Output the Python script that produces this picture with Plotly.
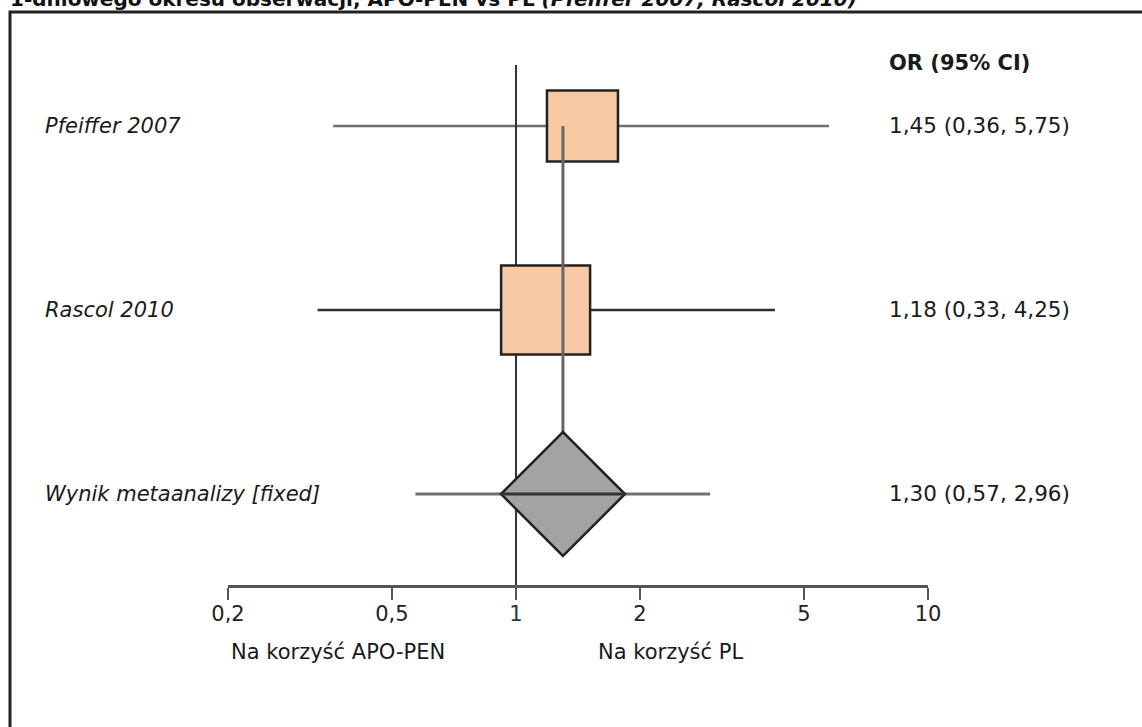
import math
import plotly.graph_objects as go

# ---------------- data ----------------
study_names = ["Pfeiffer 2007", "Rascol 2010"]
study_or = [1.45, 1.18]
study_ci_low = [0.36, 0.33]
study_ci_high = [5.75, 4.25]

meta_name = "Wynik metaanalizy [fixed]"
meta_or = 1.30
meta_ci_low = 0.57
meta_ci_high = 2.96

tick_values = [0.2, 0.5, 1, 2, 5, 10]
tick_labels = ["0,2", "0,5", "1", "2", "5", "10"]

header_text = "OR (95% CI)"
favours_left = "Na korzyść APO-PEN"
favours_right = "Na korzyść PL"
title_main = "1-dniowego okresu obserwacji, APO-PEN vs PL "
title_refs = "(Pfeiffer 2007, Rascol 2010)"

# ---------------- style / layout constants ----------------
W, H = 1142, 727
FONT = "DejaVu Sans"
FS = 21
study_box_px = [71, 89]
diamond_half_px = 62
box_fill = "#F8C9A3"
diamond_fill = "#A3A3A3"
edge = "#222222"
ci_colors = ["#707070", "#2b2b2b"]


def px_x(p):
    return p / W


def px_y(p):
    return 1 - p / H


def fmt(v):
    return f"{v:.2f}".replace(".", ",")


# y: rows 1,2,3 spaced 184 px, row 1 centred at 126 px
ROW_PX = 184.0
ROW1_PX = 126.0
AXIS_PX = 585.0
TOP_PX = 40.0


def row_val(p):
    return 1 + (p - ROW1_PX) / ROW_PX


study_rows = [1, 2]
meta_row = 3

fig = go.Figure()

# study CI lines
for i in range(len(study_names)):
    fig.add_trace(go.Scatter(
        x=[study_ci_low[i], study_ci_high[i]], y=[study_rows[i], study_rows[i]],
        mode="lines", line=dict(color=ci_colors[i], width=2.5),
        hoverinfo="skip", showlegend=False))

# meta CI line
fig.add_trace(go.Scatter(
    x=[meta_ci_low, meta_ci_high], y=[meta_row, meta_row],
    mode="lines", line=dict(color="#707070", width=3),
    hoverinfo="skip", showlegend=False))

# line of no effect
fig.add_trace(go.Scatter(
    x=[1, 1], y=[row_val(65), row_val(AXIS_PX)],
    mode="lines", line=dict(color="#333333", width=2),
    hoverinfo="skip", showlegend=False))

# study boxes
fig.add_trace(go.Scatter(
    x=study_or, y=study_rows, mode="markers",
    marker=dict(symbol="square", size=study_box_px, color=box_fill, opacity=1,
                line=dict(color=edge, width=2.5)),
    hoverinfo="skip", showlegend=False))

# pooled estimate vertical line
fig.add_trace(go.Scatter(
    x=[meta_or, meta_or], y=[study_rows[0], meta_row],
    mode="lines", line=dict(color="#666666", width=3),
    hoverinfo="skip", showlegend=False))

# diamond
fig.add_trace(go.Scatter(
    x=[meta_or], y=[meta_row], mode="markers",
    marker=dict(symbol="diamond", size=diamond_half_px * 2 / 1.3, color=diamond_fill,
                opacity=1, line=dict(color=edge, width=2.5)),
    hoverinfo="skip", showlegend=False))

# diamond mid line
fig.add_trace(go.Scatter(
    x=[meta_or], y=[meta_row], mode="markers",
    marker=dict(symbol="line-ew", size=diamond_half_px * 2 / 1.4, opacity=1,
                line=dict(color="#333333", width=3)),
    hoverinfo="skip", showlegend=False))

annotations = []
# left labels
for name, r in zip(study_names + [meta_name], study_rows + [meta_row]):
    annotations.append(dict(
        x=px_x(43), xref="paper", y=r, yref="y", xanchor="left", yanchor="middle",
        text=f"<i>{name}</i>", showarrow=False,
        font=dict(family=FONT, size=FS, color="#1a1a1a")))

# right labels
right_texts = [f"{fmt(o)} ({fmt(l)}, {fmt(h)})" for o, l, h in zip(study_or, study_ci_low, study_ci_high)]
right_texts.append(f"{fmt(meta_or)} ({fmt(meta_ci_low)}, {fmt(meta_ci_high)})")
for t, r in zip(right_texts, study_rows + [meta_row]):
    annotations.append(dict(
        x=px_x(887), xref="paper", y=r, yref="y", xanchor="left", yanchor="middle",
        text=t, showarrow=False,
        font=dict(family=FONT, size=FS + 0.5, color="#1a1a1a")))

annotations.append(dict(
    x=px_x(887), xref="paper", y=px_y(63), yref="paper", xanchor="left", yanchor="middle",
    text=f"<b>{header_text}</b>", showarrow=False,
    font=dict(family=FONT, size=FS, color="#1a1a1a")))

annotations.append(dict(
    x=px_x(229), xref="paper", y=px_y(652), yref="paper", xanchor="left", yanchor="middle",
    text=favours_left, showarrow=False,
    font=dict(family=FONT, size=FS, color="#1a1a1a")))
annotations.append(dict(
    x=px_x(596), xref="paper", y=px_y(652), yref="paper", xanchor="left", yanchor="middle",
    text=favours_right, showarrow=False,
    font=dict(family=FONT, size=FS, color="#1a1a1a")))

# title (cut by top of page)
annotations.append(dict(
    x=px_x(8), xref="paper", y=px_y(13), yref="paper", xanchor="left", yanchor="bottom",
    text=f"<b>{title_main}<i>{title_refs}</i></b>", showarrow=False,
    font=dict(family=FONT, size=20, color="#111111")))

shapes = [dict(
    type="rect", xref="paper", yref="paper",
    x0=px_x(10), x1=px_x(W + 20), y0=px_y(H + 20), y1=px_y(12),
    line=dict(color="#222222", width=3), fillcolor="rgba(0,0,0,0)", layer="above")]

tick_text_styled = [
    (f"<span style='color:#1d3557'>{t}</span>" if v == 1 else t)
    for v, t in zip(tick_values, tick_labels)]

fig.update_layout(
    width=W, height=H, autosize=False,
    margin=dict(l=0, r=0, t=0, b=0, pad=0, autoexpand=False),
    paper_bgcolor="white", plot_bgcolor="white",
    showlegend=False,
    annotations=annotations,
    shapes=shapes,
    font=dict(family=FONT, size=FS, color="#1a1a1a"),
    xaxis=dict(
        type="log", range=[math.log10(0.2), 1],
        domain=[228 / W, 928 / W],
        showline=True, linecolor="#555555", linewidth=3,
        ticks="outside", ticklen=12, tickwidth=2, tickcolor="#555555",
        tickvals=tick_values, ticktext=tick_text_styled,
        tickfont=dict(family=FONT, size=FS, color="#222222"),
        ticklabelstandoff=-4,
        showgrid=False, zeroline=False, fixedrange=True, automargin=False,
    ),
    yaxis=dict(
        range=[row_val(AXIS_PX), row_val(TOP_PX)],
        domain=[1 - AXIS_PX / H, 1 - TOP_PX / H],
        visible=False, fixedrange=True, automargin=False,
    ),
)

fig.write_html("out.html", config={"displayModeBar": False, "responsive": False})
